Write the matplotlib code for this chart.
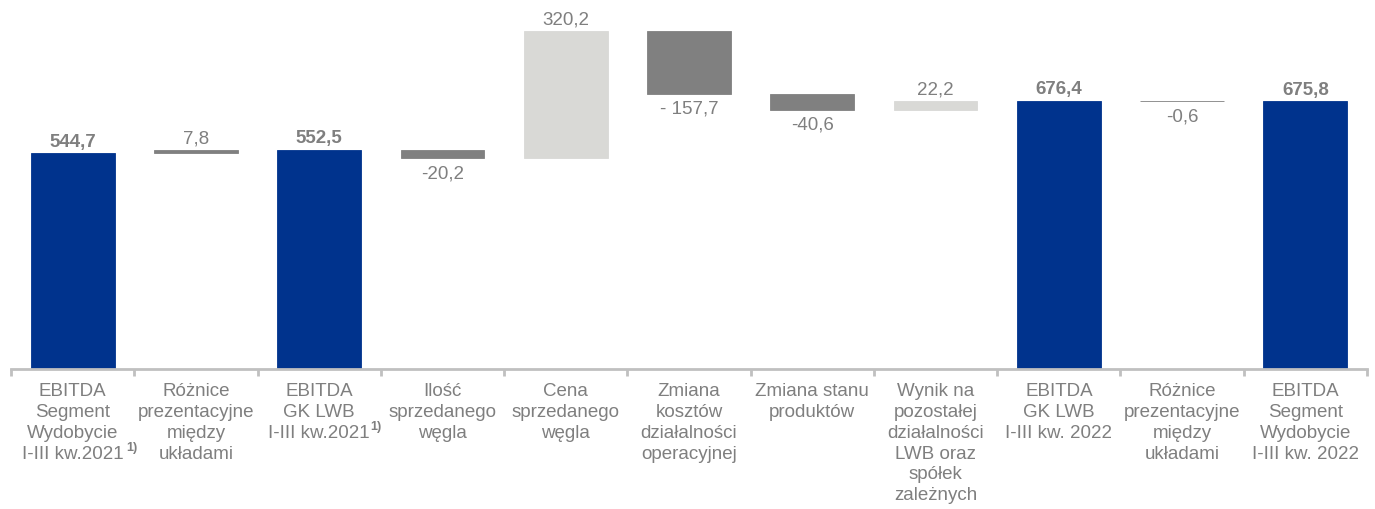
import numpy as np
import matplotlib.pyplot as plt

plt.rcParams['font.family'] = ['Liberation Sans', 'DejaVu Sans']

categories = [
    "EBITDA\nSegment\nWydobycie\nI-III kw.2021",
    "Różnice\nprezentacyjne\nmiędzy\nukładami",
    "EBITDA\nGK LWB\nI-III kw.2021",
    "Ilość\nsprzedanego\nwęgla",
    "Cena\nsprzedanego\nwęgla",
    "Zmiana\nkosztów\ndziałalności\noperacyjnej",
    "Zmiana stanu\nproduktów",
    "Wynik na\npozostałej\ndziałalności\nLWB oraz\nspółek\nzależnych",
    "EBITDA\nGK LWB\nI-III kw. 2022",
    "Różnice\nprezentacyjne\nmiędzy\nukładami",
    "EBITDA\nSegment\nWydobycie\nI-III kw. 2022",
]
values = [544.7, 7.8, 552.5, -20.2, 320.2, -157.7, -40.6, 22.2, 676.4, -0.6, 675.8]
is_total = [True, False, True, False, False, False, False, False, True, False, True]
value_labels = ["544,7", "7,8", "552,5", "-20,2", "320,2", "- 157,7", "-40,6", "22,2",
                "676,4", "-0,6", "675,8"]

navy = "#00338D"
dark = "#808080"
light = "#D9D9D6"
txt = "#7F7F7F"

# waterfall bottoms / heights
bottoms, heights, colors = [], [], []
run = 0.0
for v, tot in zip(values, is_total):
    if tot:
        bottoms.append(0)
        heights.append(v)
        colors.append(navy)
        run = v
    else:
        if v >= 0:
            bottoms.append(run)
            colors.append(light if v > 10 else dark)
        else:
            bottoms.append(run + v)
            colors.append(dark)
        heights.append(abs(v))
        run += v

x = np.arange(len(values))

fig = plt.figure(figsize=(13.75, 5.09), dpi=100)
ax = fig.add_axes([11 / 1375, 1 - 369 / 509, 1356 / 1375, 369 / 509])

ax.bar(x, heights, bottom=bottoms, width=0.68, color=colors,
       edgecolor=colors, linewidth=0.6)

for i, (v, tot) in enumerate(zip(values, is_total)):
    top = bottoms[i] + heights[i]
    if tot or v >= 0:
        ax.annotate(value_labels[i], (i, top), xytext=(0, 2), textcoords="offset points",
                    ha="center", va="bottom", fontsize=13.5, color=txt,
                    fontweight="bold" if tot else "normal")
    else:
        ax.annotate(value_labels[i], (i, bottoms[i]), xytext=(0, -5),
                    textcoords="offset points", ha="center", va="top",
                    fontsize=13.5, color=txt)

ax.set_xlim(-0.5, len(values) - 0.5)
ax.set_ylim(0, 932)
ax.set_xticks(x)
ax.set_xticklabels(categories, fontsize=13.5, color=txt, linespacing=1.3)
ax.set_xticks(np.arange(-0.5, len(values)), minor=True)
ax.tick_params(axis="x", which="major", length=0, pad=10)
ax.tick_params(axis="x", which="minor", length=5, width=2, color="#C0C0C0")
ax.set_yticks([])
for s in ["top", "left", "right"]:
    ax.spines[s].set_visible(False)
ax.spines["bottom"].set_color("#C0C0C0")
ax.spines["bottom"].set_linewidth(2)

# footnote markers
ax.annotate("1)", (0, 0), xytext=(43, -57), textcoords="offset points",
            fontsize=9, fontweight="bold", color=txt, ha="center", va="center")
ax.annotate("1)", (2, 0), xytext=(41, -42), textcoords="offset points",
            fontsize=9, fontweight="bold", color=txt, ha="center", va="center")

fig.savefig("out.png", dpi=100)
